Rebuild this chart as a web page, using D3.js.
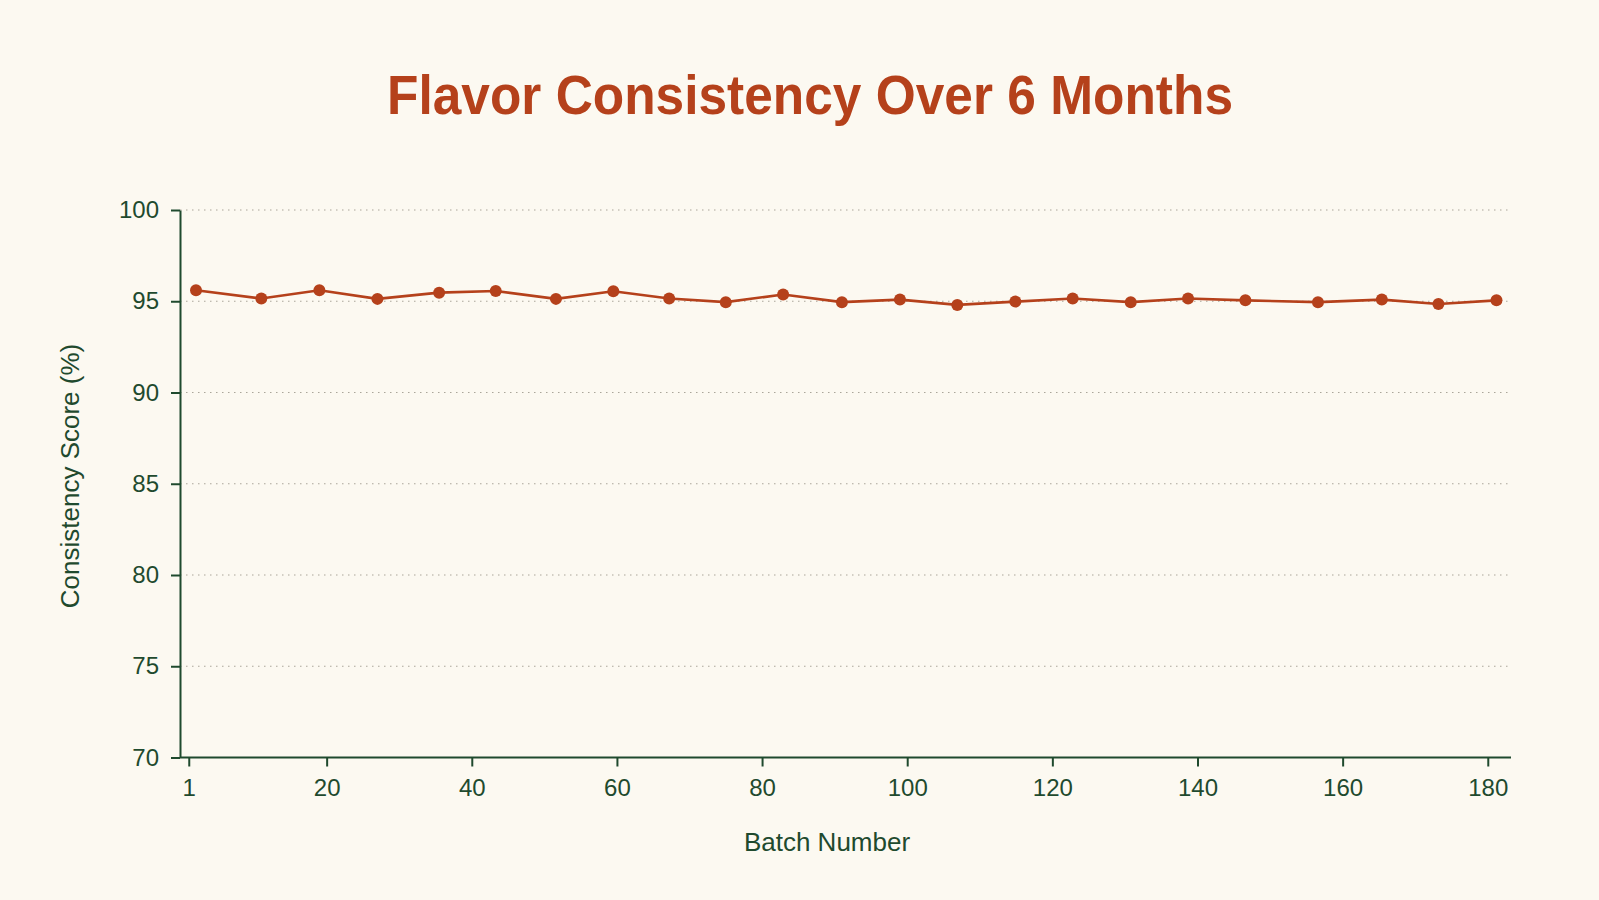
<!DOCTYPE html>
<html>
<head>
<meta charset="utf-8">
<script src="https://cdn.jsdelivr.net/npm/d3@7"></script>
<style>
  html, body { margin: 0; padding: 0; background: #fcf9f1; }
  svg { display: block; }
</style>
</head>
<body>
<svg id="chart" width="1599" height="900"></svg>
<script>
const batches = [2, 11, 19, 27, 35.5, 43.3, 51.6, 59.5, 67.2, 75, 82.9, 91, 99, 106.9, 114.9, 122.8, 130.8, 138.7, 146.6, 156.6, 165.4, 173.2, 181.2];
const scores = [95.60, 95.15, 95.60, 95.13, 95.47, 95.56, 95.13, 95.55, 95.15, 94.95, 95.37, 94.95, 95.09, 94.80, 94.98, 95.15, 94.95, 95.15, 95.05, 94.95, 95.09, 94.85, 95.05];
const xTicks = [1, 20, 40, 60, 80, 100, 120, 140, 160, 180];
const yTicks = [70, 75, 80, 85, 90, 95, 100];
const gridTicks = [75, 80, 85, 90, 95, 100];
const titleText = "Flavor Consistency Over 6 Months";
const xLabel = "Batch Number";
const yLabel = "Consistency Score (%)";

const svg = d3.select("#chart");
const green = "#1f4a2e";
const rust = "#b5411b";
const font = "'Liberation Sans', Arial, sans-serif";

const x = d3.scaleLinear().domain([0, 183.2]).range([181.5, 1511]);
const y = d3.scaleLinear().domain([70, 100]).range([757.5, 210]);

svg.append("rect").attr("width", 1599).attr("height", 900).attr("fill", "#fcf9f1");

// title
svg.append("text")
  .attr("x", 387).attr("y", 114)
  .attr("textLength", 846).attr("lengthAdjust", "spacingAndGlyphs")
  .attr("font-family", font).attr("font-weight", "bold").attr("font-size", 56)
  .attr("fill", rust).text(titleText);

// grid
svg.append("g").selectAll("line").data(gridTicks).join("line")
  .attr("x1", x.range()[0] - 1.5).attr("x2", x.range()[1])
  .attr("y1", d => y(d)).attr("y2", d => y(d))
  .attr("stroke", "#aaa69a").attr("stroke-width", 1.2)
  .attr("stroke-dasharray", "1.5,4.5");

// y axis
const yAxis = svg.append("g").attr("transform", `translate(180,0)`)
  .call(d3.axisLeft(y).tickValues(yTicks).tickSize(9).tickPadding(12).tickSizeOuter(0));
// x axis
const xAxis = svg.append("g").attr("transform", `translate(0,${y(70)})`)
  .call(d3.axisBottom(x).tickValues(xTicks).tickFormat(d3.format("d")).tickSize(9).tickPadding(12).tickSizeOuter(0));
xAxis.select(".domain").attr("d", `M180,0H1511`);

[xAxis, yAxis].forEach(g => {
  g.selectAll(".domain").attr("stroke", green).attr("stroke-width", 2);
  g.selectAll(".tick line").attr("stroke", green).attr("stroke-width", 2);
  g.selectAll(".tick text").attr("fill", green).attr("font-family", font).attr("font-size", 24);
});

// axis labels
svg.append("text").attr("x", 827).attr("y", 851).attr("text-anchor", "middle")
  .attr("font-family", font).attr("font-size", 26).attr("fill", green).text(xLabel);
svg.append("text").attr("transform", "translate(79,476) rotate(-90)").attr("text-anchor", "middle")
  .attr("font-family", font).attr("font-size", 26).attr("fill", green).text(yLabel);

// line + points
const data = batches.map((b, i) => ({ b, s: scores[i] }));
svg.append("path").datum(data)
  .attr("fill", "none").attr("stroke", rust).attr("stroke-width", 2.6)
  .attr("d", d3.line().x(d => x(d.b)).y(d => y(d.s)));
svg.append("g").selectAll("circle").data(data).join("circle")
  .attr("cx", d => x(d.b)).attr("cy", d => y(d.s)).attr("r", 6)
  .attr("fill", rust);
</script>
</body>
</html>
